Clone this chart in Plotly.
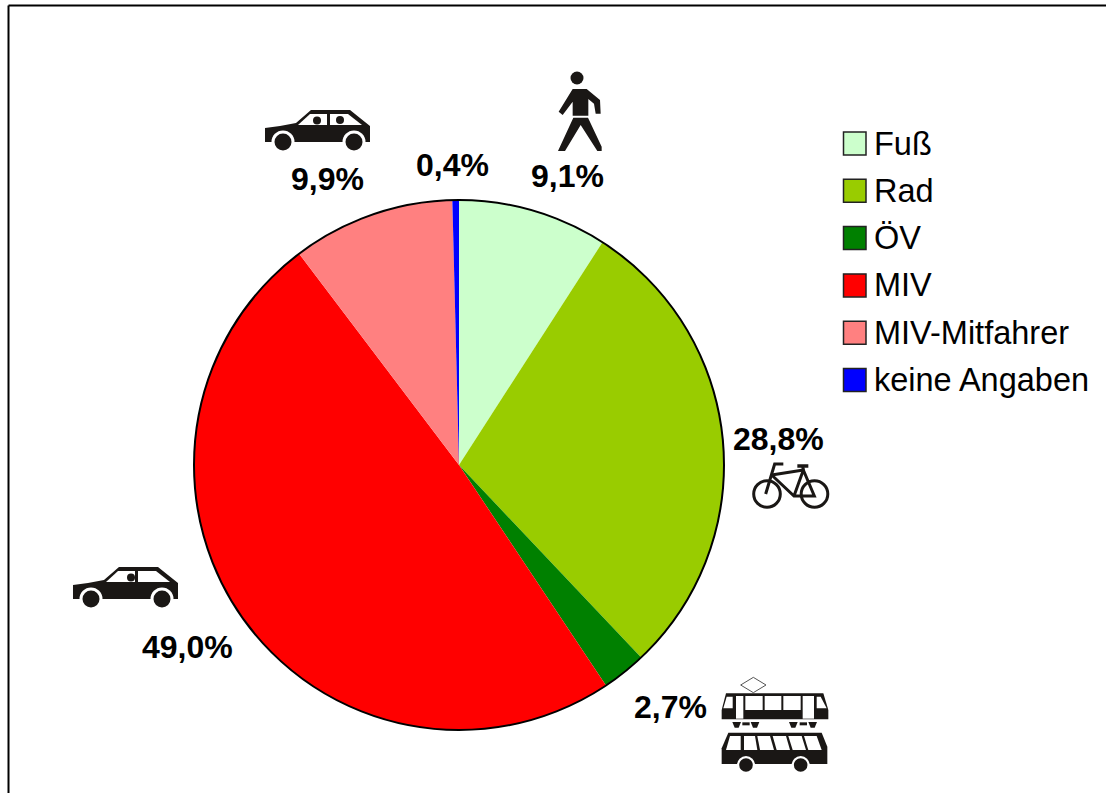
import plotly.graph_objects as go

# Data
categories = ["Fuß", "Rad", "ÖV", "MIV", "MIV-Mitfahrer", "keine Angaben"]
values = [9.1, 28.8, 2.7, 49.0, 9.9, 0.4]
colors = ["#CCFFCC", "#99CC00", "#008000", "#FF0000", "#FF8080", "#0000FF"]

W, H = 1106, 793
FONT = "Liberation Sans, Arial, sans-serif"
shapes, annos = [], []

def fx(x): return x / W
def fy(y): return 1 - y / H

def poly(pts, fill="#1a1715", line=None, width=0, close=True):
    d = "M " + " L ".join(f"{fx(x):.5f},{fy(y):.5f}" for x, y in pts) + (" Z" if close else "")
    shapes.append(dict(type="path", path=d, xref="paper", yref="paper", fillcolor=fill if close else "rgba(0,0,0,0)",
                       line=dict(color=line or "rgba(0,0,0,0)", width=width), layer="above"))

def circ(cx, cy, r, fill="#1a1715", line=None, width=0):
    shapes.append(dict(type="circle", xref="paper", yref="paper", x0=fx(cx - r), x1=fx(cx + r),
                       y0=fy(cy + r), y1=fy(cy - r), fillcolor=fill,
                       line=dict(color=line or "rgba(0,0,0,0)", width=width), layer="above"))

def line(pts, width=3, color="#1a1715"):
    poly(pts, line=color, width=width, close=False)

def car(dx, dy, rear_head=True, front_head_dx=0):
    T = lambda ps: [(x + dx, y + dy) for x, y in ps]
    poly(T([(265, 128), (280, 126), (296, 123), (311, 110), (350, 110), (370, 126), (370, 142), (265, 142)]))
    poly(T([(298, 125), (310, 114), (327, 114), (327, 125)]), fill="white")
    poly(T([(330, 114), (348, 114), (362, 125), (330, 125)]), fill="white")
    circ(317 + dx + front_head_dx, 120.5 + dy, 4)
    if rear_head:
        circ(340 + dx, 120 + dy, 4)
    for wx in (283, 354):
        circ(wx + dx, 142 + dy, 11.5, fill="white")
        circ(wx + dx, 142 + dy, 8.5)

def walker():
    Z = lambda ps: [(550 + x / 3, 65 + y / 3) for x, y in ps]
    circ(577, 78, 6.5)
    poly(Z([(68, 72), (110, 72), (150, 105), (152, 146), (137, 146), (132, 116), (115, 102), (115, 152), (68, 152),
            (68, 110), (38, 150), (26, 140)]))
    poly(Z([(70, 158), (114, 158), (155, 245), (155, 258), (142, 258), (92, 180), (45, 258), (24, 258)]))

def bike():
    Z = lambda ps: [(720 + x / 3, 420 + y / 3) for x, y in ps]
    circ(767, 494, 13.3, fill="rgba(0,0,0,0)", line="#1a1715", width=3)
    circ(814.5, 494, 13.3, fill="rgba(0,0,0,0)", line="#1a1715", width=3)
    line(Z([(190, 132), (164, 132), (137, 222)]))
    line(Z([(155, 165), (250, 150)]))
    line(Z([(155, 165), (222, 228), (283, 228), (250, 150), (222, 228)]))
    line(Z([(232, 138), (265, 138)]), width=3.5)
    line(Z([(250, 150), (248, 138)]))

def transit():
    Z = lambda ps: [(620 + x / 3, 660 + y / 3) for x, y in ps]
    poly(Z([(400, 52), (438, 75), (400, 98), (362, 75)]), fill="white", line="#555", width=1)
    poly(Z([(318, 100), (610, 100), (625, 150), (625, 178), (305, 178), (305, 150)]))
    for w in [[(320, 110), (338, 110), (338, 145), (310, 145)],
              [(348, 108), (370, 108), (370, 176), (348, 176)],
              [(376, 108), (428, 108), (428, 150), (376, 150)],
              [(434, 108), (484, 108), (484, 150), (434, 150)],
              [(490, 108), (542, 108), (542, 150), (490, 150)],
              [(548, 108), (582, 108), (582, 176), (548, 176)],
              [(590, 110), (602, 110), (620, 145), (590, 145)]]:
        poly(Z(w), fill="white")
    for bx, by, r in [(350, 193, 13), (405, 193, 13), (520, 193, 13), (578, 193, 13)]:
        poly(Z([(bx - r, by - 7), (bx + r, by - 7), (bx + 6, by + 10), (bx - 6, by + 10)]))
    for bx in (378, 550):
        poly(Z([(bx - 11, 187), (bx + 11, 187), (bx + 11, 196), (bx - 11, 196)]))
    poly(Z([(325, 218), (605, 218), (622, 260), (622, 312), (305, 312), (305, 265)]))
    for w in [[(330, 228), (362, 228), (362, 270), (318, 270)],
              [(372, 228), (405, 228), (412, 270), (372, 270)],
              [(412, 228), (450, 228), (462, 270), (420, 270)],
              [(458, 228), (498, 228), (510, 270), (470, 270)],
              [(505, 228), (545, 228), (558, 270), (518, 270)],
              [(552, 228), (590, 228), (605, 270), (565, 270)]]:
        poly(Z(w), fill="white")
    for wx in (378, 542):
        circ(620 + wx / 3, 660 + 315 / 3, 9, fill="white")
        circ(620 + wx / 3, 660 + 315 / 3, 6.8)

# Frame (left and top only)
poly([(8.5, 5.5), (8.5, 800)], line="black", width=2, close=False)
poly([(8.5, 5.5), (1106, 5.5)], line="black", width=2, close=False)

# Pie outline
CX, CY, R = 459, 465, 265
circ(CX, CY, R, fill="rgba(0,0,0,0)", line="black", width=2)

# Value labels
label_pos = [(567, 176), (778, 439), (670, 707), (187, 647), (327, 179), (452, 165)]
for v, (x, y) in zip(values, label_pos):
    annos.append(dict(text=f"<b>{v:.1f}".replace(".", ",") + "%</b>", x=fx(x), y=fy(y), xref="paper", yref="paper",
                      showarrow=False, xanchor="center", yanchor="middle",
                      font=dict(family=FONT, size=32, color="black")))

# Legend
for i, (c, col) in enumerate(zip(categories, colors)):
    yc = 143.5 + i * 47.3
    shapes.append(dict(type="rect", xref="paper", yref="paper", x0=fx(843.5), x1=fx(866), y0=fy(yc + 11.5), y1=fy(yc - 11.5),
                       fillcolor=col, line=dict(color="#222", width=1.5), layer="above"))
    annos.append(dict(text=c, x=fx(871.5), y=fy(yc), xref="paper", yref="paper", showarrow=False,
                      xanchor="left", yanchor="middle", font=dict(family=FONT, size=32.5, color="black")))

car(0, 0)
car(-192, 457, rear_head=False, front_head_dx=6)
walker()
bike()
transit()

fig = go.Figure(go.Pie(labels=categories, values=values, sort=False, direction="clockwise", rotation=0,
                       marker=dict(colors=colors, line=dict(width=0)), textinfo="none", showlegend=False,
                       domain=dict(x=[(CX - R) / W, (CX + R) / W], y=[1 - (CY + R) / H, 1 - (CY - R) / H])))
fig.update_layout(width=W, height=H, margin=dict(l=0, r=0, t=0, b=0), paper_bgcolor="white",
                  shapes=shapes, annotations=annos, font=dict(family=FONT))
fig.write_html("out.html", post_script="document.body.style.margin='0';document.body.style.overflow='hidden';",
               config=dict(displayModeBar=False))
